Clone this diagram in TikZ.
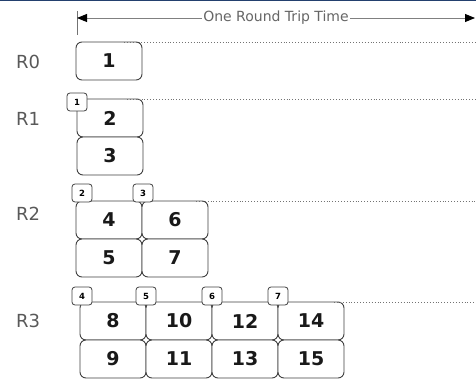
\documentclass[tikz,border=0pt]{standalone}
\usepackage{fontspec}
\setmainfont{DejaVu Sans}
\usepackage{tikz}
\usetikzlibrary{arrows.meta}
\usetikzlibrary{positioning}
\definecolor{azultopo}{HTML}{23406E}
\tikzset{
  segmento/.style={draw=black!75, line width=0.9pt, rounded corners=6pt, fill=white, outer sep=0pt, inner sep=0pt, minimum width=66pt, minimum height=38pt, font=\fontsize{19}{19}\selectfont\bfseries, text=black!90},
  ack/.style={draw=black!75, line width=0.8pt, rounded corners=3pt, fill=white, outer sep=0pt, inner sep=0pt, minimum width=20pt, minimum height=18pt, font=\fontsize{8.5}{8.5}\selectfont\bfseries},
  rotulo/.style={font=\fontsize{18}{18}\selectfont, text=black!65},
  pontilhada/.style={dotted, draw=black!55, line width=0.9pt},
  seta/.style={{Triangle[length=10pt, width=8pt, color=black]}-{Triangle[length=10pt, width=8pt, color=black]}, draw=black!50, line width=0.9pt},
}

\begin{document}
\begin{tikzpicture}[x=1pt, y=-1pt]
  \useasboundingbox (0,0) rectangle (476,382);
  \coordinate (borda) at (476,0);
  \draw[azultopo, line width=1.5pt] (0,0.75) -- (borda |- 0,0.75);

  \coordinate (ini) at (77,18);
  \coordinate (fim) at (475,18);
  \coordinate (tick1) at (77,11);
  \coordinate (tick2) at (77,35);
  \draw[black!55, line width=0.9pt] (tick1) -- (tick2);
  \draw[seta] (ini) -- node[fill=white, inner sep=1pt, font=\fontsize{14}{14}\selectfont, text=black!60] (rtt) {One Round Trip Time} (fim);

  \node[rotulo] (r0) at (28,62) {R0};
  \node[segmento] (s1) at (109,61) {1};
  \draw[pontilhada] ([xshift=-18pt]s1.north east) -- (s1.north east -| borda);

  \node[rotulo] (r1) at (28,119) {R1};
  \node[segmento] (s2) at (110,118) {2};
  \node[segmento, below=0pt of s2] (s3) {3};
  \node[ack] (a1) at ([yshift=-3pt]s2.north west) {1};
  \draw[pontilhada] ([xshift=-16pt]s2.north east) -- (s2.north east -| borda);

  \node[rotulo] (r2) at (28,214) {R2};
  \node[segmento] (s4) at (109,220) {4};
  \node[segmento, right=0pt of s4] (s6) {6};
  \node[segmento, below=0pt of s4] (s5) {5};
  \node[segmento, below=0pt of s6] (s7) {7};
  \node[ack] (a2) at ([xshift=6pt, yshift=8pt]s4.north west) {2};
  \node[ack] (a3) at ([xshift=1pt, yshift=8pt]s6.north west) {3};
  \draw[pontilhada] ([xshift=-12pt]s6.north east) -- (s6.north east -| borda);

  \node[rotulo] (r3) at (28,321) {R3};
  \node[segmento] (s8) at (113,321) {8};
  \node[segmento, right=0pt of s8] (s10) {10};
  \node[segmento, right=0pt of s10] (s12) {12};
  \node[segmento, right=0pt of s12] (s14) {14};
  \node[segmento, below=0pt of s8] (s9) {9};
  \node[segmento, below=0pt of s10] (s11) {11};
  \node[segmento, below=0pt of s12] (s13) {13};
  \node[segmento, below=0pt of s14] (s15) {15};
  \node[ack] (a4) at ([xshift=2pt, yshift=6pt]s8.north west) {4};
  \node[ack] (a5) at ([yshift=6pt]s10.north west) {5};
  \node[ack] (a6) at ([yshift=6pt]s12.north west) {6};
  \node[ack] (a7) at ([yshift=6pt]s14.north west) {7};
  \draw[pontilhada] ([xshift=-10pt]s14.north east) -- (s14.north east -| borda);
\end{tikzpicture}
\end{document}
